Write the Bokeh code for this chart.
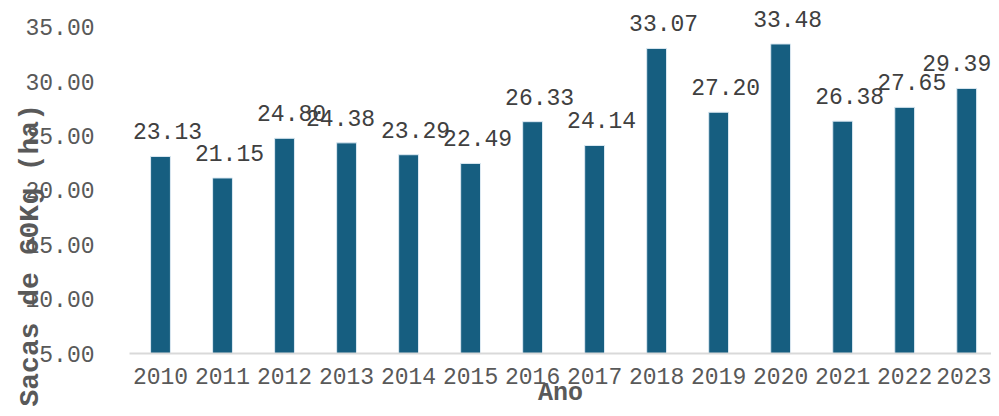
from bokeh.plotting import figure
from bokeh.models import Range1d, ColumnDataSource, Title, FixedTicker
from bokeh.core.properties import value
from bokeh.embed import file_html
from bokeh.resources import INLINE

years = ["2010", "2011", "2012", "2013", "2014", "2015", "2016",
         "2017", "2018", "2019", "2020", "2021", "2022", "2023"]
yields = [23.13, 21.15, 24.80, 24.38, 23.29, 22.49, 26.33,
          24.14, 33.07, 27.20, 33.48, 26.38, 27.65, 29.39]
y_ticks = [5, 10, 15, 20, 25, 30, 35]
y_title = "Sacas de 60Kg (ha)"
x_title = "Ano"

# label nudges (Excel moved a couple of labels to avoid overlap / clipping)
label_nudge = {"2013": -13, "2023": -17}

FONT = "Liberation Mono"
BAR = "#165E80"
TICK = "#595959"
DLAB = "#404040"

idx = list(range(len(years)))
labels_txt = [f"{v:.2f}" for v in yields]
x_offs = [7 + label_nudge.get(y, 0) for y in years]

src = ColumnDataSource(dict(x=idx, top=yields, txt=labels_txt, dx=x_offs))

p = figure(width=991, height=408,
           x_range=Range1d(-0.5, 13.4), y_range=Range1d(5, 37.48),
           output_backend="svg", toolbar_location=None,
           min_border_left=129, min_border_right=0, min_border_top=0,
           min_border_bottom=55)
p.outline_line_color = None
p.xgrid.grid_line_color = None
p.ygrid.grid_line_color = None
p.background_fill_color = "white"
p.border_fill_color = "white"

p.vbar(x="x", top="top", bottom=5, width=0.32, source=src,
       fill_color=BAR, line_color="#DCE9F2", line_width=1)

p.text(x="x", y="top", text="txt", source=src, x_offset="dx", y_offset=-25,
       text_align="center", text_baseline="middle",
       text_font=value(FONT), text_font_size="23px", text_color=DLAB)

p.yaxis.ticker = FixedTicker(ticks=y_ticks)
p.yaxis.major_label_overrides = {t: f"{t:.2f}" for t in y_ticks}
p.yaxis.axis_line_color = None
p.yaxis.major_tick_line_color = None
p.yaxis.minor_tick_line_color = None
p.yaxis.major_label_standoff = 29
p.yaxis.major_label_text_font = FONT
p.yaxis.major_label_text_font_size = "23px"
p.yaxis.major_label_text_color = TICK

p.xaxis.ticker = FixedTicker(ticks=idx)
p.xaxis.major_label_overrides = {i: y for i, y in zip(idx, years)}
p.xaxis.axis_line_color = "#D9D9D9"
p.xaxis.axis_line_width = 2
p.xaxis.major_tick_line_color = None
p.xaxis.minor_tick_line_color = None
p.xaxis.major_label_standoff = 8
p.xaxis.major_label_text_font = FONT
p.xaxis.major_label_text_font_size = "23px"
p.xaxis.major_label_text_color = TICK

p.add_layout(Title(text=y_title, align="left", offset=-53,
                   vertical_align="bottom", standoff=-46,
                   text_font=FONT, text_font_size="28px",
                   text_font_style="bold", text_color=TICK), "left")
p.add_layout(Title(text=x_title, align="center",
                   vertical_align="bottom", standoff=-19,
                   text_font=FONT, text_font_size="25px",
                   text_font_style="bold", text_color=TICK), "below")

open("out.html", "w").write(file_html(p, INLINE))
